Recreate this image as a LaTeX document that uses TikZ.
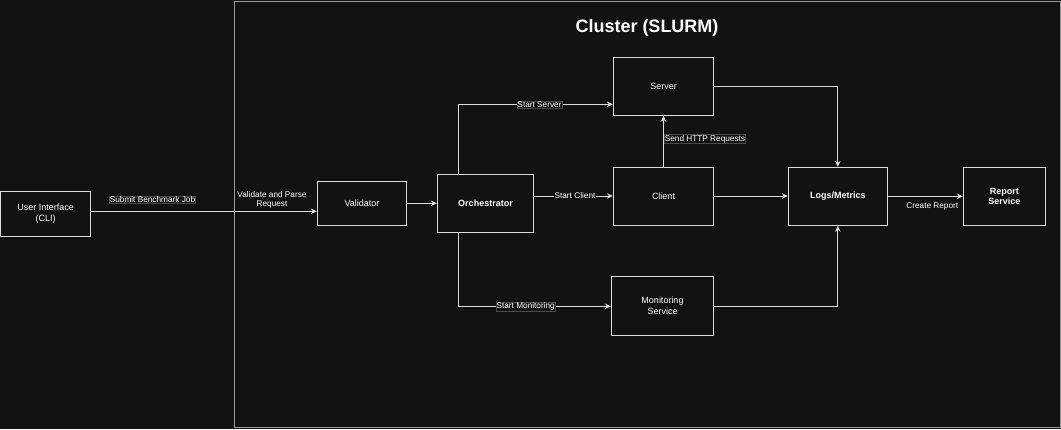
\documentclass[tikz,border=0pt]{standalone}
\usepackage{fontspec}
\setmainfont{Liberation Sans}
\usetikzlibrary{arrows.meta}
\definecolor{bgc}{HTML}{121212}
\definecolor{linec}{HTML}{DCDCDC}
\definecolor{clusterc}{HTML}{9A9A9A}
\definecolor{lblc}{HTML}{4A4A4A}
\tikzset{
  box/.style={draw=linec, line width=0.9pt, fill=bgc, text=white, align=center, inner sep=0pt, font=\fontsize{9}{10.5}\selectfont},
  boldbox/.style={box, font=\fontsize{9}{10.5}\selectfont\bfseries},
  arr/.style={draw=linec, line width=0.9pt, -{Stealth[length=6pt,width=5.5pt,inset=2pt]}},
  lbl/.style={fill=bgc, text=white, inner sep=0.6pt, font=\fontsize{8.25}{9.5}\selectfont},
  lblbox/.style={lbl, draw=lblc, line width=0.5pt},
}
\begin{document}
\begin{tikzpicture}[x=1pt,y=-1pt]
\path[fill=bgc] (0,0) rectangle (1061,429);
\useasboundingbox (0,0) rectangle (1061,429);
% cluster
\draw[clusterc, line width=1pt] (234.5,1) rectangle (1060,427.5);
\node[text=white, font=\fontsize{18}{20}\selectfont\bfseries] (title) at (647,28) {Cluster (SLURM)};
% nodes
\node[box, minimum width=90.2pt, minimum height=45pt] (ui) at (45.6,213.8) {User Interface\\(CLI)};
\node[box, minimum width=89.4pt, minimum height=44pt] (val) at (362,203.3) {Validator};
\node[boldbox, minimum width=96.4pt, minimum height=57.7pt] (orch) at (485.5,203.2) {Orchestrator};
\node[box, minimum width=100.4pt, minimum height=58pt] (server) at (663.5,86.3) {Server};
\node[box, minimum width=100.4pt, minimum height=58pt] (client) at (663.5,196) {Client};
\node[box, minimum width=102.4pt, minimum height=58.6pt] (mon) at (662.5,306) {Monitoring\\Service};
\node[boldbox, minimum width=99pt, minimum height=58pt] (logs) at (837.8,196.3) {Logs/Metrics};
\node[boldbox, minimum width=82pt, minimum height=58pt] (report) at (1004.3,196.3) {Report\\Service};
% helper coordinates
\coordinate (vy) at (0,211.3);
\coordinate (ss) at (458.3,104.3);
\coordinate (sm) at (458.3,306.3);
% connectors
\draw[arr] (ui.east |- vy) -- (val.west |- vy);
\node[lblbox] (lsubmit) at (152.5,200) {Submit Benchmark Job};
\node[lbl, fill=none, align=center] (lvalidate) at (272,200) {Validate and Parse\\Request};
\draw[arr] (val.east) -- (orch.west |- val.east);
\draw[arr] (orch.east |- client.west) -- (client.west);
\node[lbl] (lclient) at (575,196) {Start Client};
\draw[arr] (orch.north -| ss) |- (server.west |- ss);
\node[lblbox] (lserver) at (539.5,104.3) {Start Server};
\draw[arr] (orch.south -| sm) |- (mon.west |- sm);
\node[lblbox] (lmon) at (525.7,306.8) {Start Monitoring};
\draw[arr] (client.north) -- (server.south);
\node[lblbox, anchor=west] (lhttp) at (664,139) {Send HTTP Requests};
\draw[arr] (client.east) -- (logs.west |- client.east);
\draw[arr] (server.east) -| (logs.north);
\draw[arr] (mon.east) -| (logs.south);
\draw[arr] (logs.east) -- (report.west);
\node[lbl, fill=none] (lreport) at (932.3,206.7) {Create Report};
\end{tikzpicture}
\end{document}
